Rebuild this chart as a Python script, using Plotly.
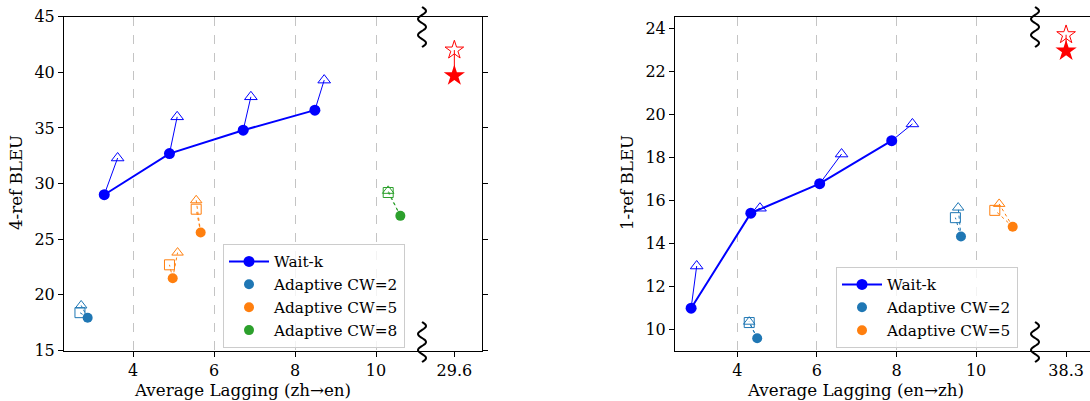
import numpy as np
import plotly.graph_objects as go

# ---------------- data (zh->en, 4-ref) ----------------
wk_zh_al = [3.29, 4.90, 6.72, 8.49]
wk_zh_bleu = [29.0, 32.7, 34.8, 36.6]
wk_zh_tri_al = [3.62, 5.09, 6.91, 8.72]
wk_zh_tri_bleu = [32.3, 36.0, 37.8, 39.3]

cw2_zh_al = [2.88]
cw2_zh_bleu = [17.95]
cw2_zh_sq_al = [2.69]
cw2_zh_sq_bleu = [18.4]
cw2_zh_tri_al = [2.72]
cw2_zh_tri_bleu = [19.05]

cw5_zh_al = [4.98, 5.67]
cw5_zh_bleu = [21.5, 25.6]
cw5_zh_sq_al = [4.90, 5.56]
cw5_zh_sq_bleu = [22.7, 27.7]
cw5_zh_tri_al = [5.10, 5.56]
cw5_zh_tri_bleu = [23.8, 28.5]

cw8_zh_al = [10.60]
cw8_zh_bleu = [27.1]
cw8_zh_sq_al = [10.30]
cw8_zh_sq_bleu = [29.2]
cw8_zh_tri_al = [10.30]
cw8_zh_tri_bleu = [29.35]

full_zh_al = [29.6]
full_zh_bleu = [39.7]
full_zh_open_bleu = [42.0]

# ---------------- data (en->zh, 1-ref) ----------------
wk_en_al = [2.84, 4.34, 6.07, 7.88]
wk_en_bleu = [10.98, 15.40, 16.77, 18.77]
wk_en_tri_al = [2.98, 4.57, 6.62, 8.40]
wk_en_tri_bleu = [12.94, 15.63, 18.15, 19.55]

cw2_en_al = [4.50, 9.62]
cw2_en_bleu = [9.58, 14.31]
cw2_en_sq_al = [4.30, 9.48]
cw2_en_sq_bleu = [10.31, 15.19]
cw2_en_tri_al = [4.30, 9.55]
cw2_en_tri_bleu = [10.35, 15.66]

cw5_en_al = [10.92]
cw5_en_bleu = [14.77]
cw5_en_sq_al = [10.47]
cw5_en_sq_bleu = [15.53]
cw5_en_tri_al = [10.58]
cw5_en_tri_bleu = [15.83]

full_en_al = [38.3]
full_en_bleu = [22.95]
full_en_open_bleu = [23.7]

main_xticks = [4, 6, 8, 10]
zh_yticks = [15, 20, 25, 30, 35, 40, 45]
en_yticks = [10, 12, 14, 16, 18, 20, 22, 24]

# ---------------- styling ----------------
W, H = 1090, 401
FONT = "DejaVu Serif, Liberation Serif, serif"
BLUE = "#0000ff"
C2 = "#1f77b4"
C5 = "#ff7f0e"
C8 = "#2ca02c"
RED = "#ff0000"
FS_TICK = 16
FS_TITLE = 16.7
FS_LEG = 15.3


def px_x(p):
    return p / W


def px_y(p):
    return (H - p) / H


def seg(x0s, y0s, x1s, y1s):
    xs, ys = [], []
    for a, b, c, d in zip(x0s, y0s, x1s, y1s):
        xs += [a, c, None]
        ys += [b, d, None]
    return xs, ys


fig = go.Figure()


def add_adaptive(xa, ya, cx, cy, sx, sy, tx, ty, color, name, legend):
    lx, ly = seg(cx, cy, sx, sy)
    lx2, ly2 = seg(cx, cy, tx, ty)
    fig.add_trace(go.Scatter(x=lx + lx2, y=ly + ly2, mode="lines", xaxis=xa, yaxis=ya,
                             line=dict(color=color, width=1, dash="dot"),
                             showlegend=False, hoverinfo="skip"))
    fig.add_trace(go.Scatter(x=tx, y=ty, mode="markers", xaxis=xa, yaxis=ya,
                             marker=dict(symbol="triangle-up-open", size=10, color=color,
                                         line=dict(width=1, color=color)),
                             showlegend=False))
    fig.add_trace(go.Scatter(x=sx, y=sy, mode="markers", xaxis=xa, yaxis=ya,
                             marker=dict(symbol="square-open", size=10, color=color,
                                         line=dict(width=1, color=color)),
                             showlegend=False))
    fig.add_trace(go.Scatter(x=cx, y=cy, mode="markers", xaxis=xa, yaxis=ya, name=name,
                             marker=dict(symbol="circle", size=10, color=color),
                             showlegend=True, legend=legend))


def add_waitk(xa, ya, cx, cy, tx, ty, legend):
    lx, ly = seg(cx, cy, tx, ty)
    fig.add_trace(go.Scatter(x=lx, y=ly, mode="lines", xaxis=xa, yaxis=ya,
                             line=dict(color=BLUE, width=1), showlegend=False, hoverinfo="skip"))
    fig.add_trace(go.Scatter(x=tx, y=ty, mode="markers", xaxis=xa, yaxis=ya,
                             marker=dict(symbol="triangle-up-open", size=11, color=BLUE,
                                         line=dict(width=1, color=BLUE)),
                             showlegend=False))
    fig.add_trace(go.Scatter(x=cx, y=cy, mode="lines+markers", xaxis=xa, yaxis=ya, name="Wait-k",
                             line=dict(color=BLUE, width=2),
                             marker=dict(symbol="circle", size=11, color=BLUE),
                             legend=legend))


def add_full(xa, ya, sx, sy, oy):
    lx, ly = seg(sx, sy, sx, oy)
    fig.add_trace(go.Scatter(x=lx, y=ly, mode="lines", xaxis=xa, yaxis=ya,
                             line=dict(color=RED, width=1), showlegend=False, hoverinfo="skip"))
    fig.add_trace(go.Scatter(x=sx, y=oy, mode="markers", xaxis=xa, yaxis=ya,
                             marker=dict(symbol="star-open", size=14, color=RED,
                                         line=dict(width=1, color=RED)),
                             showlegend=False))
    fig.add_trace(go.Scatter(x=sx, y=sy, mode="markers", xaxis=xa, yaxis=ya,
                             marker=dict(symbol="star", size=16, color=RED, line=dict(width=0)),
                             showlegend=False))


# left panel
add_waitk("x", "y", wk_zh_al, wk_zh_bleu, wk_zh_tri_al, wk_zh_tri_bleu, "legend")
add_adaptive("x", "y", cw2_zh_al, cw2_zh_bleu, cw2_zh_sq_al, cw2_zh_sq_bleu,
             cw2_zh_tri_al, cw2_zh_tri_bleu, C2, "Adaptive CW=2", "legend")
add_adaptive("x", "y", cw5_zh_al, cw5_zh_bleu, cw5_zh_sq_al, cw5_zh_sq_bleu,
             cw5_zh_tri_al, cw5_zh_tri_bleu, C5, "Adaptive CW=5", "legend")
add_adaptive("x", "y", cw8_zh_al, cw8_zh_bleu, cw8_zh_sq_al, cw8_zh_sq_bleu,
             cw8_zh_tri_al, cw8_zh_tri_bleu, C8, "Adaptive CW=8", "legend")
add_full("x2", "y2", full_zh_al, full_zh_bleu, full_zh_open_bleu)

# right panel
add_waitk("x3", "y3", wk_en_al, wk_en_bleu, wk_en_tri_al, wk_en_tri_bleu, "legend2")
add_adaptive("x3", "y3", cw2_en_al, cw2_en_bleu, cw2_en_sq_al, cw2_en_sq_bleu,
             cw2_en_tri_al, cw2_en_tri_bleu, C2, "Adaptive CW=2", "legend2")
add_adaptive("x3", "y3", cw5_en_al, cw5_en_bleu, cw5_en_sq_al, cw5_en_sq_bleu,
             cw5_en_tri_al, cw5_en_tri_bleu, C5, "Adaptive CW=5", "legend2")
add_full("x4", "y4", full_en_al, full_en_bleu, full_en_open_bleu)

ydom = [px_y(350.5), px_y(16.7)]
tickfont = dict(family=FONT, size=FS_TICK, color="black")
common_x = dict(showline=True, linecolor="black", linewidth=1, mirror=True,
                ticks="outside", ticklen=5, tickcolor="black", tickfont=tickfont,
                zeroline=False, automargin=False)
common_y = dict(showline=True, linecolor="black", linewidth=1,
                ticks="outside", ticklen=5, tickcolor="black", tickfont=tickfont,
                zeroline=False, showgrid=False, automargin=False)
legend_style = dict(xanchor="left", yanchor="top",
                    bgcolor="rgba(255,255,255,0.8)", bordercolor="#cccccc", borderwidth=1,
                    font=dict(family=FONT, size=FS_LEG, color="black"),
                    traceorder="normal", tracegroupgap=0, itemwidth=40)

fig.update_layout(
    width=W, height=H,
    autosize=False,
    margin=dict(l=0, r=0, t=0, b=0, pad=0, autoexpand=False),
    paper_bgcolor="white", plot_bgcolor="white",
    font=dict(family=FONT, size=FS_TICK, color="black"),
    showlegend=True,
    xaxis=dict(domain=[px_x(64), px_x(421)], range=[2.296, 11.11], anchor="y",
               tickvals=main_xticks, showgrid=True, gridcolor="#c4c4c4", griddash="dash",
               gridwidth=1, **common_x),
    xaxis2=dict(domain=[px_x(421), px_x(482)], range=[28.78, 30.28], anchor="y2",
                tickvals=full_zh_al, ticktext=[str(v) for v in full_zh_al], showgrid=False,
                **common_x),
    yaxis=dict(domain=ydom, range=[15, 45], anchor="x", tickvals=zh_yticks, **common_y),
    yaxis2=dict(domain=ydom, matches="y", range=[15, 45], anchor="x2", side="right",
                showticklabels=False, tickvals=zh_yticks, **common_y),
    xaxis3=dict(domain=[px_x(675), px_x(1035)], range=[2.435, 11.48], anchor="y3",
                tickvals=main_xticks, showgrid=True, gridcolor="#c4c4c4", griddash="dash",
                gridwidth=1, **common_x),
    xaxis4=dict(domain=[px_x(1035), 1.0], range=[37.52, 38.90], anchor="y4",
                tickvals=full_en_al, ticktext=[str(v) for v in full_en_al], showgrid=False,
                **common_x),
    yaxis3=dict(domain=ydom, range=[9.01, 24.54], anchor="x3", tickvals=en_yticks, **common_y),
    yaxis4=dict(domain=ydom, matches="y3", range=[9.01, 24.54], anchor="x4", visible=False),
    legend=dict(x=px_x(223), y=px_y(244), **legend_style),
    legend2=dict(x=px_x(836), y=px_y(267), **legend_style),
)

# axis titles
ann = [
    dict(text="Average Lagging (zh→en)", x=px_x(242), y=px_y(390)),
    dict(text="Average Lagging (en→zh)", x=px_x(855), y=px_y(390)),
    dict(text="4-ref BLEU", x=px_x(16), y=px_y(183), textangle=-90),
    dict(text="1-ref BLEU", x=px_x(627), y=px_y(183), textangle=-90),
]
for a in ann:
    fig.add_annotation(xref="paper", yref="paper", showarrow=False,
                       xanchor="center", yanchor="middle",
                       font=dict(family=FONT, size=FS_TITLE, color="black"), **a)


# broken-axis wavy marks (decoration)
def wave(cx, y0, y1):
    t = np.linspace(0, 1, 60)
    xs = cx + 4 * np.sin(t * 2.5 * 2 * np.pi)
    ys = y0 + (y1 - y0) * t
    pts = [f"{px_x(a):.5f},{px_y(b):.5f}" for a, b in zip(xs, ys)]
    return "M " + " L ".join(pts)


for cx, y0, y1 in [(422, 7, 47), (422, 322, 362), (1035, 7, 47), (1035, 322, 362)]:
    fig.add_shape(type="path", xref="paper", yref="paper", path=wave(cx, y0, y1),
                  line=dict(color="black", width=2))

fig.write_html("out.html",
               config={"responsive": False, "displayModeBar": False},
               post_script="document.body.style.margin='0px';document.body.style.overflow='hidden';")
